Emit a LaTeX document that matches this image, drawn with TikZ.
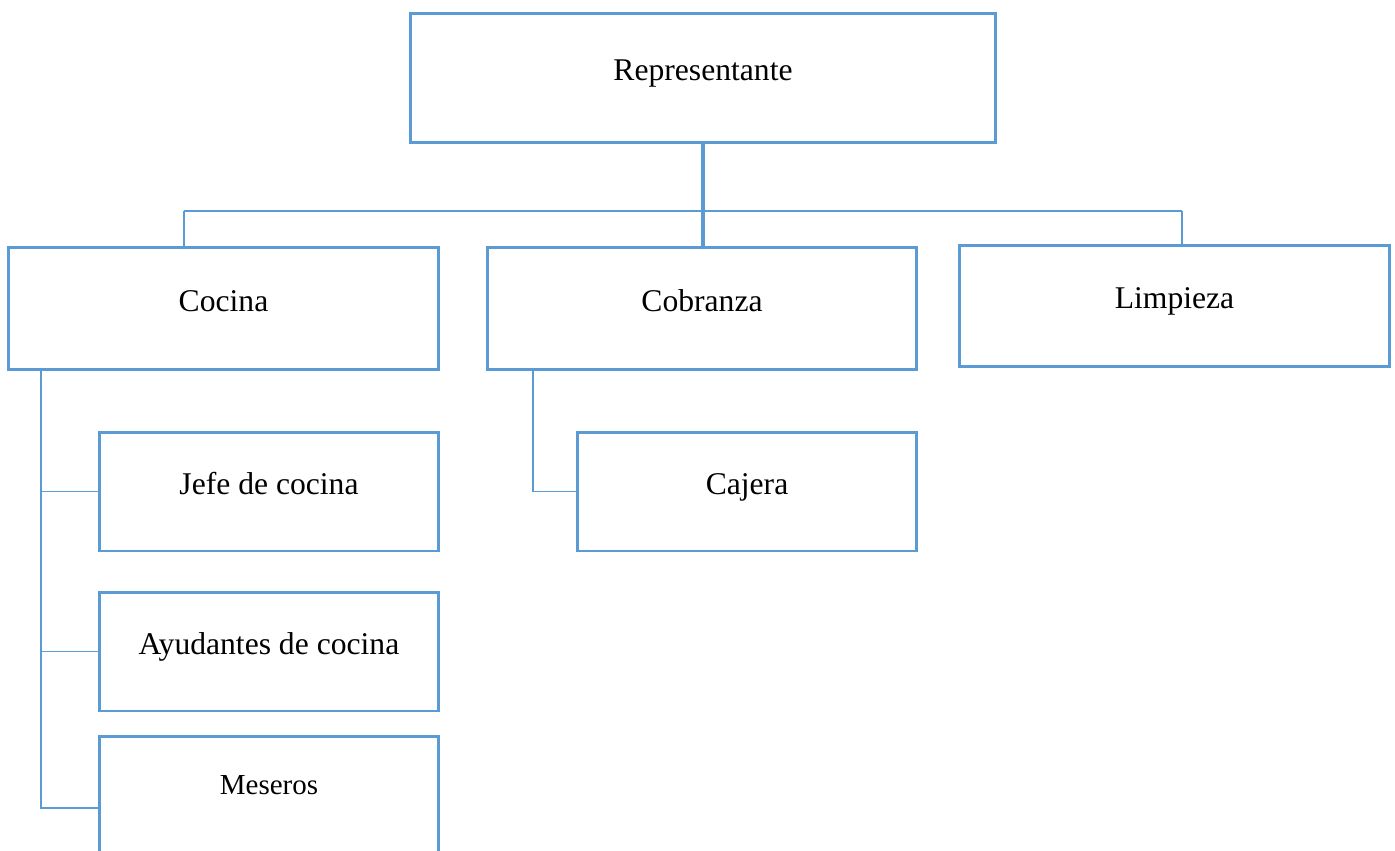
\documentclass[tikz,border=0pt]{standalone}
\usepackage{fontspec}
\setmainfont{Liberation Serif}
\definecolor{orgblue}{HTML}{5B9BD5}
\tikzset{
	orgbox/.style={shape=rectangle, draw=orgblue, line width=1.7pt, align=center, font=\fontsize{18}{22}\selectfont, text height=12pt, text depth=9pt},
	thinwire/.style={draw=orgblue, line width=0.85pt},
	thickwire/.style={draw=orgblue, line width=1.8pt}
}

\begin{document}
\begin{tikzpicture}[x=0.02cm, y=-0.02cm]
				\useasboundingbox (0, 0) rectangle (1395, 851);
				% Boxes:
				\node[orgbox, minimum width=11.72cm, minimum height=2.6cm] (rep) at (703, 78){Representante};
				\node[orgbox, minimum width=8.62cm, minimum height=2.46cm] (coc) at (223.5, 308.5){Cocina};
				\node[orgbox, minimum width=8.6cm, minimum height=2.46cm] (cob) at (702, 308.5){Cobranza};
				\node[orgbox, minimum width=8.62cm, minimum height=2.44cm] (lim) at (1174.5, 306){Limpieza};
				\node[orgbox, minimum width=6.8cm, minimum height=2.38cm] (jefe) at (269, 491.5){Jefe de cocina};
				\node[orgbox, minimum width=6.8cm, minimum height=2.38cm] (ayu) at (269, 651.5){Ayudantes de cocina};
				\node[orgbox, minimum width=6.8cm, minimum height=2.88cm, font=\fontsize{16.5}{20}\selectfont, text height=10pt, text depth=25pt] (mes) at (269, 808){Meseros};
				\node[orgbox, minimum width=6.8cm, minimum height=2.38cm] (caj) at (747, 491.5){Cajera};
				% Lines:
				\coordinate (busL) at (184, 211);
				\coordinate (busR) at (1182, 211);
				\coordinate (cocS) at (41, 370);
				\coordinate (cobS) at (533, 370);
				\draw[thickwire] (rep.south) -- (rep.south |- cob.north);
				\draw[thinwire] (busL) -- (busR);
				\draw[thinwire] (busL) -- (busL |- coc.north);
				\draw[thinwire] (busR) -- (busR |- lim.north);
				\draw[thinwire] (cocS) |- (jefe.west);
				\draw[thinwire] (cocS) |- (ayu.west);
				\draw[thinwire] (cocS) |- (mes.west);
				\draw[thinwire] (cobS) |- (caj.west);
			\end{tikzpicture}
\end{document}
